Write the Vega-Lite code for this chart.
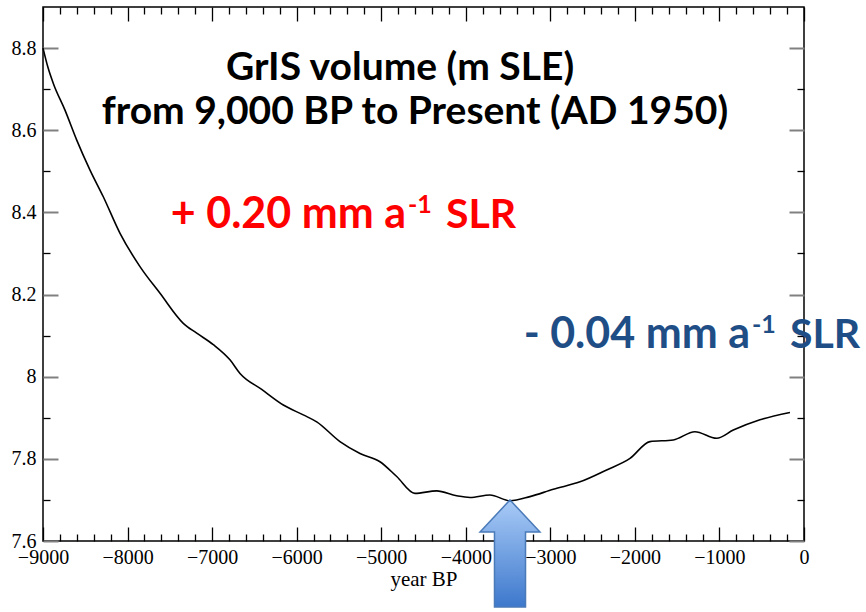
{
  "$schema": "https://vega.github.io/schema/vega-lite/v6.json",
  "width": 761,
  "height": 534,
  "autosize": {"type": "none"},
  "padding": {"left": 43, "top": 7, "right": 62, "bottom": 71},
  "background": "white",
  "config": {
    "view": {"stroke": "black", "strokeWidth": 1.5},
    "axis": {"grid": false, "domain": false, "labelFont": "Liberation Serif", "labelFontSize": 20, "labelColor": "black", "titleFont": "Liberation Serif", "titleFontSize": 21, "titleFontWeight": "normal", "titleColor": "black", "tickWidth": 1.3}
  },
  "datasets": {
    "curve": [
      {"year": -9000, "value": 8.80},
      {"year": -8940, "value": 8.752},
      {"year": -8878, "value": 8.714},
      {"year": -8740, "value": 8.649},
      {"year": -8601, "value": 8.576},
      {"year": -8444, "value": 8.503},
      {"year": -8287, "value": 8.438},
      {"year": -8089, "value": 8.349},
      {"year": -7853, "value": 8.268},
      {"year": -7616, "value": 8.203},
      {"year": -7341, "value": 8.130},
      {"year": -7182, "value": 8.106},
      {"year": -6986, "value": 8.078},
      {"year": -6789, "value": 8.041},
      {"year": -6670, "value": 8.008},
      {"year": -6414, "value": 7.969},
      {"year": -6158, "value": 7.931},
      {"year": -5922, "value": 7.907},
      {"year": -5763, "value": 7.890},
      {"year": -5488, "value": 7.842},
      {"year": -5251, "value": 7.813},
      {"year": -5015, "value": 7.793},
      {"year": -4817, "value": 7.757},
      {"year": -4601, "value": 7.716},
      {"year": -4344, "value": 7.722},
      {"year": -4108, "value": 7.710},
      {"year": -3950, "value": 7.706},
      {"year": -3714, "value": 7.712},
      {"year": -3477, "value": 7.698},
      {"year": -3241, "value": 7.708},
      {"year": -2965, "value": 7.726},
      {"year": -2649, "value": 7.744},
      {"year": -2334, "value": 7.773},
      {"year": -2058, "value": 7.801},
      {"year": -1822, "value": 7.842},
      {"year": -1546, "value": 7.846},
      {"year": -1290, "value": 7.866},
      {"year": -1033, "value": 7.850},
      {"year": -836, "value": 7.870},
      {"year": -521, "value": 7.895},
      {"year": -166, "value": 7.913}
    ],
    "titles": [
      {"year": -4778, "value": 8.751, "label": "GrIS volume (m SLE)"},
      {"year": -4601, "value": 8.644, "label": "from 9,000 BP to Present (AD 1950)"}
    ],
    "rates": [
      {"year": -4707, "value": 8.361, "main": "+ 0.20 mm a", "sup": "-1", "unit": "SLR", "series": "gain"},
      {"year": -639, "value": 8.069, "main": "- 0.04 mm a", "sup": "-1", "unit": "SLR", "series": "loss"}
    ],
    "arrow": [{"year": -3477, "value": 7.7}]
  },
  "resolve": {"axis": {"x": "independent", "y": "independent"}},
  "layer": [
    {
      "data": {"name": "curve"},
      "mark": {"type": "line", "color": "black", "strokeWidth": 1.6, "interpolate": "monotone"},
      "encoding": {
        "x": {"field": "year", "type": "quantitative", "scale": {"domain": [-9000, 0], "nice": false, "zero": false},
          "axis": {"orient": "bottom", "values": [-9000, -8000, -7000, -6000, -5000, -4000, -3000, -2000, -1000, 0], "tickSize": -14, "tickColor": "black", "labelPadding": 20, "labelFlush": false, "format": "d", "title": "year BP", "titlePadding": 1}},
        "y": {"field": "value", "type": "quantitative", "scale": {"domain": [7.6, 8.9], "nice": false, "zero": false},
          "axis": {"orient": "left", "values": [7.6, 7.8, 8, 8.2, 8.4, 8.6, 8.8], "tickSize": -15, "tickColor": "#808080", "tickWidth": 2, "labelPadding": 22, "labelFlush": false, "format": "~g", "title": null}}
      }
    },
    {
      "data": {"name": "curve"},
      "mark": {"type": "point", "opacity": 0},
      "encoding": {
        "x": {"field": "year", "type": "quantitative", "scale": {"domain": [-9000, 0], "nice": false, "zero": false},
          "axis": {"orient": "bottom", "values": [-8800, -8600, -8400, -8200, -7800, -7600, -7400, -7200, -6800, -6600, -6400, -6200, -5800, -5600, -5400, -5200, -4800, -4600, -4400, -4200, -3800, -3600, -3400, -3200, -2800, -2600, -2400, -2200, -1800, -1600, -1400, -1200, -800, -600, -400, -200], "tickSize": -7, "tickColor": "black", "labels": false, "title": null}},
        "y": {"field": "value", "type": "quantitative", "scale": {"domain": [7.6, 8.9], "nice": false, "zero": false},
          "axis": {"orient": "left", "values": [7.7, 7.9, 8.1, 8.3, 8.5, 8.7], "tickSize": -7, "tickColor": "black", "labels": false, "title": null}}
      }
    },
    {
      "data": {"name": "curve"},
      "mark": {"type": "point", "opacity": 0},
      "encoding": {
        "x": {"field": "year", "type": "quantitative", "scale": {"domain": [-9000, 0], "nice": false, "zero": false},
          "axis": {"orient": "top", "values": [-9000, -8000, -7000, -6000, -5000, -4000, -3000, -2000, -1000, 0], "tickSize": -14, "tickColor": "black", "labels": false, "title": null}},
        "y": {"field": "value", "type": "quantitative", "scale": {"domain": [7.6, 8.9], "nice": false, "zero": false},
          "axis": {"orient": "right", "values": [7.6, 7.8, 8, 8.2, 8.4, 8.6, 8.8], "tickSize": -15, "tickColor": "#808080", "tickWidth": 2, "labels": false, "title": null}}
      }
    },
    {
      "data": {"name": "curve"},
      "mark": {"type": "point", "opacity": 0},
      "encoding": {
        "x": {"field": "year", "type": "quantitative", "scale": {"domain": [-9000, 0], "nice": false, "zero": false},
          "axis": {"orient": "top", "values": [-8800, -8600, -8400, -8200, -7800, -7600, -7400, -7200, -6800, -6600, -6400, -6200, -5800, -5600, -5400, -5200, -4800, -4600, -4400, -4200, -3800, -3600, -3400, -3200, -2800, -2600, -2400, -2200, -1800, -1600, -1400, -1200, -800, -600, -400, -200], "tickSize": -7, "tickColor": "black", "labels": false, "title": null}},
        "y": {"field": "value", "type": "quantitative", "scale": {"domain": [7.6, 8.9], "nice": false, "zero": false},
          "axis": {"orient": "right", "values": [7.7, 7.9, 8.1, 8.3, 8.5, 8.7], "tickSize": -7, "tickColor": "black", "labels": false, "title": null}}
      }
    },
    {
      "data": {"name": "titles"},
      "mark": {"type": "text", "font": "Lato", "fontWeight": "bold", "fontSize": 39, "color": "black", "align": "center", "baseline": "middle", "clip": false},
      "encoding": {
        "x": {"field": "year", "type": "quantitative", "axis": null},
        "y": {"field": "value", "type": "quantitative", "axis": null},
        "text": {"field": "label"}
      }
    },
    {
      "data": {"name": "rates"},
      "mark": {"type": "text", "font": "Lato", "fontWeight": "bold", "fontSize": 43, "align": "right", "baseline": "alphabetic", "clip": false},
      "encoding": {
        "x": {"field": "year", "type": "quantitative", "axis": null},
        "y": {"field": "value", "type": "quantitative", "axis": null},
        "text": {"field": "main"},
        "color": {"field": "series", "type": "nominal", "scale": {"domain": ["gain", "loss"], "range": ["#ff0000", "#1f4e86"]}, "legend": null}
      }
    },
    {
      "data": {"name": "rates"},
      "mark": {"type": "text", "font": "Lato", "fontWeight": "bold", "fontSize": 25, "align": "left", "baseline": "alphabetic", "dx": 2, "dy": -15, "clip": false},
      "encoding": {
        "x": {"field": "year", "type": "quantitative", "axis": null},
        "y": {"field": "value", "type": "quantitative", "axis": null},
        "text": {"field": "sup"},
        "color": {"field": "series", "type": "nominal", "scale": {"domain": ["gain", "loss"], "range": ["#ff0000", "#1f4e86"]}, "legend": null}
      }
    },
    {
      "data": {"name": "rates"},
      "mark": {"type": "text", "font": "Lato", "fontWeight": "bold", "fontSize": 41, "align": "left", "baseline": "alphabetic", "dx": 40, "clip": false},
      "encoding": {
        "x": {"field": "year", "type": "quantitative", "axis": null},
        "y": {"field": "value", "type": "quantitative", "axis": null},
        "text": {"field": "unit"},
        "color": {"field": "series", "type": "nominal", "scale": {"domain": ["gain", "loss"], "range": ["#ff0000", "#1f4e86"]}, "legend": null}
      }
    },
    {
      "data": {"name": "arrow"},
      "mark": {
        "type": "point",
        "shape": "M0,0 L0.56,0.6 L0.29,0.6 L0.29,2 L-0.29,2 L-0.29,0.6 L-0.56,0.6 Z",
        "size": 11449,
        "filled": true,
        "opacity": 1,
        "fill": {"gradient": "linear", "x1": 0, "y1": 0, "x2": 0, "y2": 1, "stops": [{"offset": 0, "color": "#a9cbf7"}, {"offset": 1, "color": "#3d78cc"}]},
        "stroke": "#4a7ab8",
        "strokeWidth": 1.5,
        "clip": false
      },
      "encoding": {
        "x": {"field": "year", "type": "quantitative", "axis": null},
        "y": {"field": "value", "type": "quantitative", "axis": null}
      }
    }
  ]
}
